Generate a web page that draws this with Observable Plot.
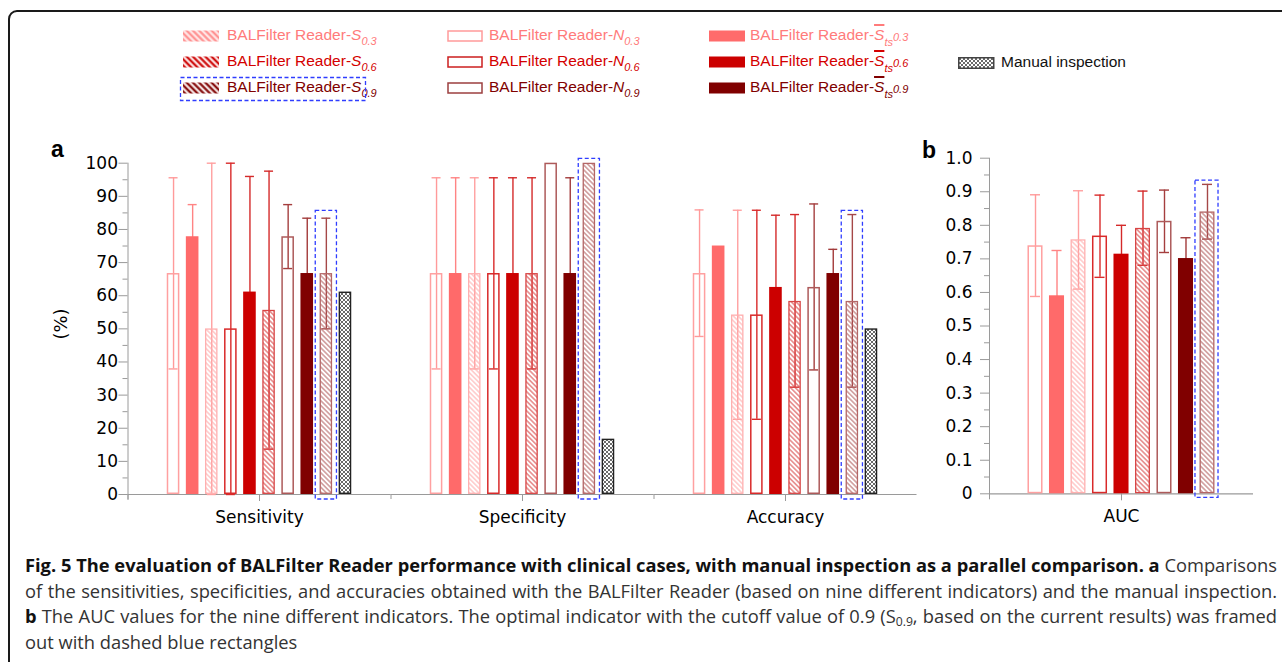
<!DOCTYPE html>
<html><head><meta charset="utf-8">
<script src="https://cdn.jsdelivr.net/npm/d3@7"></script>
<script src="https://cdn.jsdelivr.net/npm/@observablehq/plot@0.6"></script>
<style>
html,body{margin:0;padding:0;background:#fff;}
body{width:1282px;height:662px;overflow:hidden;position:relative;}
#frame{position:absolute;left:8px;top:10px;width:1330px;height:720px;border:2.5px solid #1a1a1a;border-radius:9px;box-sizing:border-box;}
.sw{position:absolute;}
.lt{position:absolute;font-family:"Liberation Sans",Arial,sans-serif;font-size:15.5px;line-height:18px;white-space:nowrap;}
.it{font-style:italic;}
.sb{font-style:italic;font-size:11px;position:relative;top:5px;}
.ov{font-style:italic;text-decoration:overline;text-decoration-thickness:2px;}
.ts{font-style:italic;font-size:11px;position:relative;top:6px;}
.c2{font-style:italic;font-size:11px;position:relative;top:1px;}
.panel{position:absolute;font-weight:bold;font-family:"Liberation Sans",Arial,sans-serif;font-size:23px;line-height:23px;}
#ylab{position:absolute;left:44px;top:313px;width:34px;text-align:center;transform:rotate(-90deg);font-family:"DejaVu Sans",sans-serif;font-size:18px;line-height:22px;}
#caption{position:absolute;left:25px;top:553px;font-family:"Open Sans",sans-serif;font-size:18px;line-height:25.5px;color:#333;transform-origin:0 0;}
#caption .cl{white-space:nowrap;}
#caption b{color:#111;}
#caption sub{font-size:12px;line-height:0;vertical-align:-3px;}
</style></head>
<body>
<svg width="0" height="0" style="position:absolute;left:0;top:0">
<defs>
<pattern id="h03" patternUnits="userSpaceOnUse" width="3.4" height="3.4" patternTransform="rotate(-45)"><line x1="1.7" y1="0" x2="1.7" y2="3.4" stroke="#ffacac" stroke-width="1"/></pattern>
<pattern id="h06" patternUnits="userSpaceOnUse" width="3.4" height="3.4" patternTransform="rotate(-45)"><line x1="1.7" y1="0" x2="1.7" y2="3.4" stroke="#d84848" stroke-width="1"/></pattern>
<pattern id="h09" patternUnits="userSpaceOnUse" width="3.4" height="3.4" patternTransform="rotate(-45)"><line x1="1.7" y1="0" x2="1.7" y2="3.4" stroke="#b46262" stroke-width="1"/></pattern>
<pattern id="lh03" patternUnits="userSpaceOnUse" width="4.4" height="4.4" patternTransform="rotate(-45)"><rect width="4.4" height="4.4" fill="#ffe4e4"/><line x1="2.2" y1="0" x2="2.2" y2="4.4" stroke="#ff8c8c" stroke-width="2"/></pattern>
<pattern id="lh06" patternUnits="userSpaceOnUse" width="4.4" height="4.4" patternTransform="rotate(-45)"><rect width="4.4" height="4.4" fill="#fbe0e0"/><line x1="2.2" y1="0" x2="2.2" y2="4.4" stroke="#cc0000" stroke-width="2"/></pattern>
<pattern id="lh09" patternUnits="userSpaceOnUse" width="4.4" height="4.4" patternTransform="rotate(-45)"><rect width="4.4" height="4.4" fill="#f2e0e0"/><line x1="2.2" y1="0" x2="2.2" y2="4.4" stroke="#800000" stroke-width="2"/></pattern>
<pattern id="cross" patternUnits="userSpaceOnUse" width="4" height="4"><rect width="4" height="4" fill="#fff"/><path d="M0,0L4,4M4,0L0,4" stroke="#444" stroke-width="0.8"/></pattern>
</defs></svg>
<div id="frame"></div>
<div id="legend"></div>
<div class="panel" style="left:51px;top:138px">a</div>
<div class="panel" style="left:922px;top:139px">b</div>
<div id="ylab">(%)</div>
<div id="plotA" style="position:absolute;left:0;top:140px"></div>
<div id="plotB" style="position:absolute;left:920px;top:140px"></div>
<div id="caption">
<div class="cl"><span><b>Fig. 5 The evaluation of BALFilter Reader performance with clinical cases, with manual inspection as a parallel comparison. a</b> Comparisons</span></div>
<div class="cl"><span>of the sensitivities, specificities, and accuracies obtained with the BALFilter Reader (based on nine different indicators) and the manual inspection.</span></div>
<div class="cl"><span><b>b</b> The AUC values for the nine different indicators. The optimal indicator with the cutoff value of 0.9 (S<sub>0.9</sub>, based on the current results) was framed</span></div>
<div class="cl"><span>out with dashed blue rectangles</span></div>
</div>
<script>
// ---------- data ----------
const metrics = ["Sensitivity", "Specificity", "Accuracy"];
const indicators = ["N0.3", "Sts0.3", "S0.3", "N0.6", "Sts0.6", "S0.6", "N0.9", "Sts0.9", "S0.9", "Manual"];
const sensitivity     = [66.7, 77.8, 50.0, 50.0, 61.1, 55.6, 77.8, 66.7, 66.7, 61.1];
const sensitivityLow  = [37.9, 68.1, 0,    0,    26.2, 13.7, 68.2, 50.0, 50.0, null];
const sensitivityHigh = [95.6, 87.5, 100,  100,  96.0, 97.6, 87.5, 83.4, 83.4, null];
const specificity     = [66.7, 66.7, 66.7, 66.7, 66.7, 66.7, 100,  66.7, 100,  16.7];
const specificityLow  = [37.9, 37.9, 37.9, 37.9, 37.9, 37.9, null, 37.9, null, null];
const specificityHigh = [95.6, 95.6, 95.6, 95.6, 95.6, 95.6, null, 95.6, null, null];
const accuracy        = [66.7, 75.0, 54.2, 54.2, 62.5, 58.3, 62.5, 66.7, 58.3, 50.0];
const accuracyLow     = [47.7, null, 22.7, 22.7, 40.7, 32.4, 37.6, 59.4, 32.4, null];
const accuracyHigh    = [85.9, null, 85.8, 85.8, 84.3, 84.5, 87.7, 74.0, 84.5, null];
const aucIndicators = ["N0.3", "Sts0.3", "S0.3", "N0.6", "Sts0.6", "S0.6", "N0.9", "Sts0.9", "S0.9"];
const auc     = [0.739, 0.590, 0.757, 0.768, 0.714, 0.791, 0.812, 0.701, 0.840];
const aucLow  = [0.588, 0.455, 0.610, 0.645, 0.628, 0.681, 0.719, 0.639, 0.759];
const aucHigh = [0.891, 0.725, 0.903, 0.890, 0.800, 0.902, 0.905, 0.763, 0.922];
const highlighted = "S0.9";
const boxTopA = [85.6, 101.3, 85.6];
const boxTopB = [0.933];
const yTicksA = [0, 10, 20, 30, 40, 50, 60, 70, 80, 90, 100];
const yMinorA = [5, 15, 25, 35, 45, 55, 65, 75, 85, 95];
const yTicksB = [0, 0.1, 0.2, 0.3, 0.4, 0.5, 0.6, 0.7, 0.8, 0.9, 1.0];
const yMinorB = [0.05, 0.15, 0.25, 0.35, 0.45, 0.55, 0.65, 0.75, 0.85, 0.95];
const legendSymbols = ["S", "N", "Sts"];
const legendCutoffs = ["0.3", "0.6", "0.9"];
const legendPrefix = "BALFilter Reader-";
const manualLabel = "Manual inspection";

// ---------- styles ----------
const styles = {
  "N0.3":   {kind: "outline", color: "#ffa0a0", err: "#ff9a9a"},
  "Sts0.3": {kind: "fill",    color: "#ff6a6a", err: "#ff8484"},
  "S0.3":   {kind: "hatch",   color: "#ffb0b0", pattern: "h03", err: "#ffa0a0"},
  "N0.6":   {kind: "outline", color: "#d92a2a", err: "#d92a2a"},
  "Sts0.6": {kind: "fill",    color: "#cc0000", err: "#d42a2a"},
  "S0.6":   {kind: "hatch",   color: "#d84444", pattern: "h06", err: "#d42a2a"},
  "N0.9":   {kind: "outline", color: "#ad5a5a", err: "#a53e3e"},
  "Sts0.9": {kind: "fill",    color: "#800000", err: "#a23a3a"},
  "S0.9":   {kind: "hatch",   color: "#b46666", pattern: "h09", err: "#a54848"},
  "Manual": {kind: "cross",   color: "#222222", pattern: "cross"}
};
const axisGray = "#9a9a9a";
const boxBlue = "#2f3dff";

function rowsFor(metric, values, lows, highs, inds) {
  return inds.map((ind, i) => ({metric, ind, value: values[i], lo: lows[i], hi: highs[i]}));
}
const dataA = [
  ...rowsFor("Sensitivity", sensitivity, sensitivityLow, sensitivityHigh, indicators),
  ...rowsFor("Specificity", specificity, specificityLow, specificityHigh, indicators),
  ...rowsFor("Accuracy", accuracy, accuracyLow, accuracyHigh, indicators)
];
const dataB = rowsFor("AUC", auc, aucLow, aucHigh, aucIndicators);
const boxA = metrics.map((m, i) => ({metric: m, ind: highlighted, top: boxTopA[i]}));
const boxB = [{metric: "AUC", ind: highlighted, top: boxTopB[0]}];

function barMarks(data, inds, capInset) {
  const marks = [];
  for (const ind of inds) {
    const st = styles[ind];
    const rows = data.filter(d => d.ind === ind);
    const err = rows.filter(d => d.hi != null);
    if (err.length) {
      marks.push(Plot.ruleX(err, {fx: "metric", x: "ind", y1: d => d.lo ?? d.value, y2: "hi", stroke: st.err, strokeWidth: 1.4}));
      marks.push(Plot.tickY(err, {fx: "metric", x: "ind", y: "hi", stroke: st.err, strokeWidth: 1.4, insetLeft: capInset, insetRight: capInset}));
      marks.push(Plot.tickY(err.filter(d => d.lo != null), {fx: "metric", x: "ind", y: "lo", stroke: st.err, strokeWidth: 1.4, insetLeft: capInset, insetRight: capInset}));
    }
    const base = {fx: "metric", x: "ind", y1: 0, y2: "value"};
    if (st.kind === "fill") marks.push(Plot.barY(rows, {...base, fill: st.color}));
    else if (st.kind === "outline") marks.push(Plot.barY(rows, {...base, fill: "none", stroke: st.color, strokeWidth: 1.5, inset: 0.75}));
    else marks.push(Plot.barY(rows, {...base, fill: `url(#${st.pattern})`, stroke: st.color, strokeWidth: st.kind === "cross" ? 1.4 : 1.3, inset: 0.7}));
  }
  return marks;
}

const svgStyle = {fontFamily: "'DejaVu Sans', sans-serif", fontSize: "17px", color: "#000", background: "transparent", overflow: "visible"};

const plotA = Plot.plot({
  width: 920, height: 400,
  marginLeft: 127.5, marginRight: 3.5, marginTop: 22.7, marginBottom: 46,
  style: svgStyle,
  fx: {domain: metrics, padding: 0, round: false},
  x: {domain: indicators, paddingInner: 0.34, paddingOuter: 2.055, round: false, axis: null},
  y: {domain: [0, 100]},
  marks: [
    Plot.ruleY([0], {stroke: axisGray, strokeWidth: 1.2}),
    Plot.frame({anchor: "left", stroke: axisGray, insetBottom: -5, facetAnchor: "left"}),
    Plot.frame({anchor: "left", stroke: axisGray, insetTop: 331.3, insetBottom: -4}),
    Plot.axisY({ticks: yTicksA, tickSize: 9, tickPadding: 1, stroke: axisGray, fill: "#000", fontSize: 17, label: null}),
    Plot.axisY({ticks: yMinorA, tickSize: 5, text: null, stroke: axisGray, label: null}),
    Plot.axisFx({anchor: "bottom", tickSize: 7, tickPadding: 9, stroke: axisGray, fill: "#000", fontSize: 17, label: null}),
    ...barMarks(dataA, indicators, 1.8),
    Plot.barY(boxA, {fx: "metric", x: "ind", y1: 0, y2: "top", fill: "none", stroke: boxBlue, strokeWidth: 1.3, strokeDasharray: "4 2.5", insetLeft: -4.3, insetRight: -4.3, insetBottom: -5})
  ]
});
document.getElementById("plotA").append(plotA);

const plotB = Plot.plot({
  width: 362, height: 400,
  marginLeft: 69, marginRight: 29, marginTop: 17.7, marginBottom: 46.7,
  style: svgStyle,
  fx: {domain: ["AUC"], padding: 0, round: false},
  x: {domain: aucIndicators, paddingInner: 0.30, paddingOuter: 1.79, round: false, axis: null},
  y: {domain: [0, 1]},
  marks: [
    Plot.ruleY([0], {stroke: axisGray, strokeWidth: 1.2}),
    Plot.frame({anchor: "left", stroke: axisGray, insetBottom: -5}),
    Plot.axisY({ticks: yTicksB, tickFormat: d => d === 0 ? "0" : d.toFixed(1), tickSize: 9, tickPadding: 8, stroke: axisGray, fill: "#000", fontSize: 17, label: null}),
    Plot.axisY({ticks: yMinorB, tickSize: 5, text: null, stroke: axisGray, label: null}),
    Plot.axisFx({anchor: "bottom", tickSize: 7, tickPadding: 9, stroke: axisGray, fill: "#000", fontSize: 17, label: null}),
    ...barMarks(dataB, aucIndicators, 2.5),
    Plot.barY(boxB, {fx: "metric", x: "ind", y1: 0, y2: "top", fill: "none", stroke: boxBlue, strokeWidth: 1.3, strokeDasharray: "4 2.5", insetLeft: -4.5, insetRight: -3.5, insetBottom: -4})
  ]
});
document.getElementById("plotB").append(plotB);

// ---------- legend ----------
const legend = document.getElementById("legend");
const rowCenters = [36, 62, 88];
const colSwatchX = [183, 447, 709];
const colTextX = [227, 489, 750];
const rowTextColors = ["#ff7b7b", "#d40000", "#800000"];
const outlineColors = ["#ff9a9a", "#cc1f1f", "#9c3f3f"];
const fillColors = ["#ff6b6b", "#cc0000", "#800000"];
const legendPatterns = ["lh03", "lh06", "lh09"];
function swatch(x, cy, inner) {
  return `<svg class="sw" style="left:${x}px;top:${cy - 6}px" width="37" height="12">${inner}</svg>`;
}
let html = "";
legendSymbols.forEach((sym, c) => {
  legendCutoffs.forEach((cut, r) => {
    const cy = rowCenters[r];
    let inner;
    if (c === 0) inner = `<rect x="0" y="0.5" width="36" height="11" fill="url(#${legendPatterns[r]})"/>`;
    else if (c === 1) inner = `<rect x="1" y="1" width="34" height="10" fill="#fff" stroke="${outlineColors[r]}" stroke-width="1.5"/>`;
    else inner = `<rect x="0" y="0.5" width="36" height="11" fill="${fillColors[r]}"/>`;
    html += swatch(colSwatchX[c], cy, inner);
    const symHtml = sym === "Sts"
      ? `<span class="ov">S</span><span class="ts">ts</span><span class="c2">${cut}</span>`
      : `<span class="it">${sym}</span><span class="sb">${cut}</span>`;
    html += `<div class="lt" style="left:${colTextX[c]}px;top:${cy - 10}px;color:${rowTextColors[r]}">${legendPrefix}${symHtml}</div>`;
  });
});
html += swatch(958, 63, `<rect x="0.75" y="0.75" width="35" height="10.5" fill="url(#cross)" stroke="#444" stroke-width="1.5"/>`);
html += `<div class="lt" style="left:1001px;top:53px;color:#111">${manualLabel}</div>`;
html += `<svg style="position:absolute;left:179px;top:76px" width="190" height="27"><rect x="1.5" y="1.5" width="185" height="23" fill="none" stroke="${boxBlue}" stroke-width="1.3" stroke-dasharray="4 2.5"/></svg>`;
legend.innerHTML = html;

// ---------- caption fit ----------
function fitCaption() {
  const cap = document.getElementById("caption");
  cap.style.transform = "none";
  const spans = [...cap.querySelectorAll(".cl > span")];
  spans.forEach(s => s.style.wordSpacing = "0px");
  const widths = spans.map(s => s.getBoundingClientRect().width);
  const W = 1252;
  const s = Math.min(...widths.slice(0, 3).map(w => W / w));
  cap.style.transform = `scaleX(${s})`;
  spans.slice(0, 3).forEach((sp, i) => {
    const n = (sp.textContent.match(/ /g) || []).length;
    sp.style.wordSpacing = ((W / s - widths[i]) / n) + "px";
  });
}
fitCaption();
if (document.fonts && document.fonts.ready) document.fonts.ready.then(fitCaption);
</script>
</body></html>
